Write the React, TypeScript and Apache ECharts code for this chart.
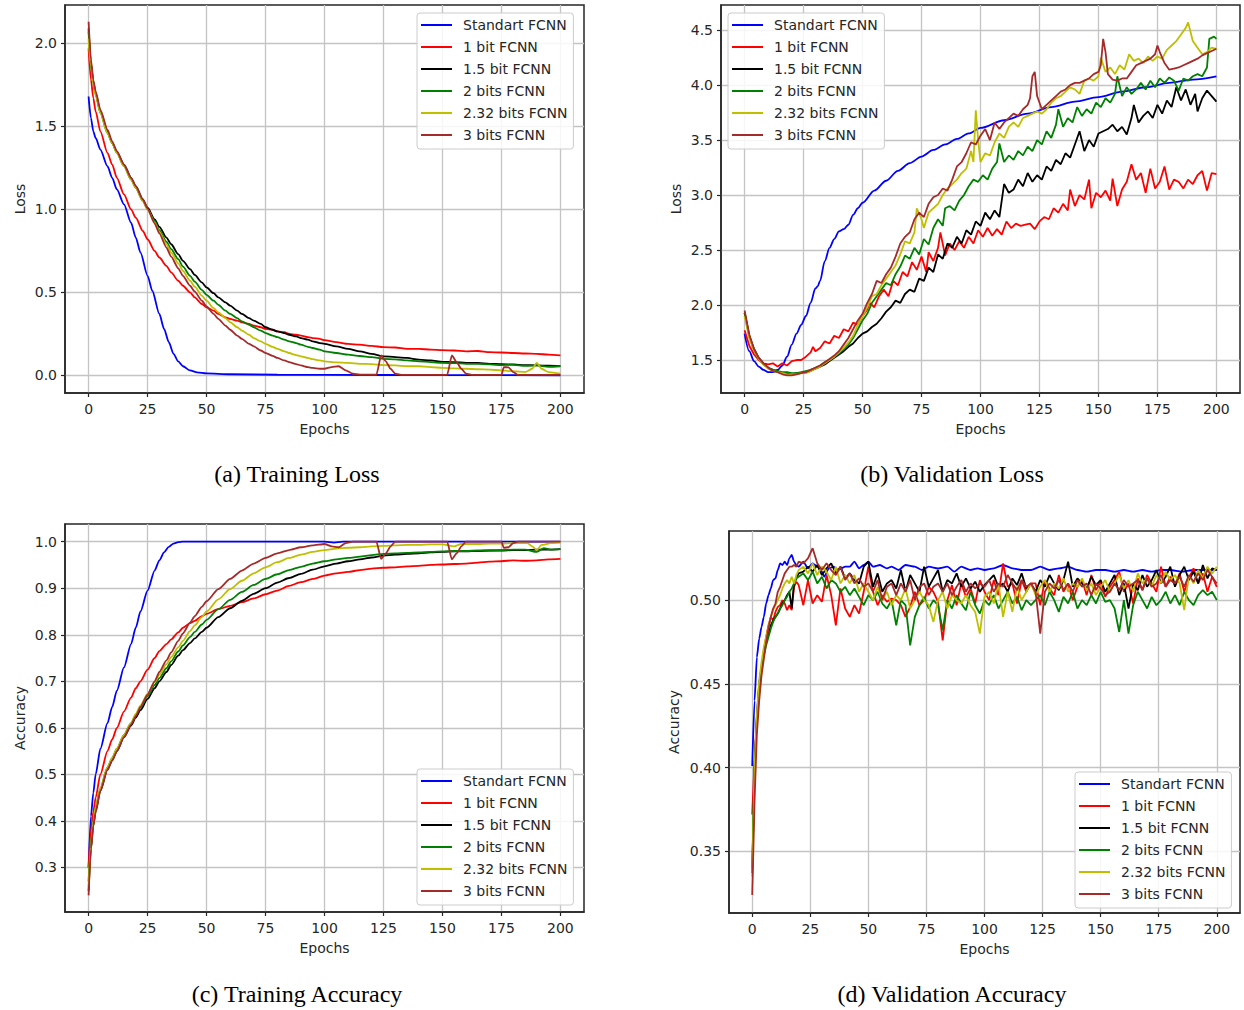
import React, { useEffect, useRef } from "react";
import * as echarts from "echarts";

const SERIES_NAMES = ["Standart FCNN", "1 bit FCNN", "1.5 bit FCNN", "2 bits FCNN", "2.32 bits FCNN", "3 bits FCNN"];
const COLORS = ["#0000ff", "#ff0000", "#000000", "#008000", "#bfbf00", "#a52a2a"];
const CAPTIONS = ["(a) Training Loss", "(b) Validation Loss", "(c) Training Accuracy", "(d) Validation Accuracy"];

const X_TICKS = [0, 25, 50, 75, 100, 125, 150, 175, 200];
const Y_TICKS_A = [0, 0.5, 1.0, 1.5, 2.0];
const Y_TICKS_B = [1.5, 2.0, 2.5, 3.0, 3.5, 4.0, 4.5];
const Y_TICKS_C = [0.3, 0.4, 0.5, 0.6, 0.7, 0.8, 0.9, 1.0];
const Y_TICKS_D = [0.35, 0.4, 0.45, 0.5];

// ---------- (a) Training loss: [epoch, loss]
const TL_STD = [[0,1.68],[1,1.55],[2,1.47],[3,1.43],[5,1.36],[8,1.26],[10,1.19],[12,1.12],[15,1.03],[18,0.92],[20,0.83],[22,0.74],[25,0.60],[27,0.51],[30,0.37],[32,0.28],[34,0.20],[36,0.13],[38,0.085],[40,0.055],[43,0.03],[46,0.018],[50,0.012],[60,0.007],[80,0.004],[100,0.003],[150,0.002],[200,0.001]];
const TL_1BIT = [[0,1.97],[1,1.78],[2,1.67],[3,1.59],[5,1.47],[8,1.34],[10,1.27],[12,1.19],[15,1.09],[18,1.00],[20,0.95],[23,0.87],[25,0.82],[28,0.75],[30,0.71],[33,0.66],[35,0.62],[38,0.57],[40,0.54],[43,0.50],[45,0.47],[48,0.43],[50,0.41],[53,0.39],[55,0.37],[58,0.35],[60,0.34],[63,0.33],[65,0.32],[68,0.31],[70,0.30],[73,0.29],[75,0.28],[78,0.275],[80,0.265],[83,0.26],[85,0.25],[88,0.245],[90,0.24],[93,0.23],[95,0.225],[98,0.22],[100,0.212],[105,0.20],[110,0.19],[115,0.185],[120,0.178],[125,0.17],[130,0.168],[135,0.16],[140,0.16],[145,0.155],[150,0.152],[155,0.15],[160,0.145],[165,0.147],[170,0.14],[175,0.138],[180,0.135],[185,0.132],[190,0.13],[195,0.125],[200,0.12]];
const TL_15BIT = [[0,2.09],[1,1.88],[2,1.77],[3,1.70],[5,1.59],[8,1.47],[10,1.40],[12,1.345],[15,1.27],[18,1.19],[20,1.14],[23,1.06],[25,1.01],[28,0.94],[30,0.895],[33,0.83],[35,0.79],[38,0.73],[40,0.69],[43,0.64],[45,0.605],[48,0.56],[50,0.53],[53,0.495],[55,0.47],[58,0.44],[60,0.42],[63,0.39],[65,0.37],[68,0.345],[70,0.33],[73,0.31],[75,0.29],[78,0.275],[80,0.265],[83,0.255],[85,0.245],[88,0.235],[90,0.225],[93,0.215],[95,0.205],[98,0.195],[100,0.19],[105,0.175],[110,0.16],[115,0.145],[120,0.13],[125,0.115],[130,0.11],[135,0.105],[140,0.095],[145,0.09],[150,0.082],[155,0.08],[160,0.076],[165,0.075],[170,0.07],[175,0.068],[180,0.066],[185,0.062],[190,0.06],[195,0.058],[200,0.056]];
const TL_2BIT = [[0,2.07],[1,1.87],[2,1.76],[3,1.69],[5,1.58],[8,1.46],[10,1.40],[12,1.34],[15,1.26],[18,1.18],[20,1.13],[23,1.05],[25,1.00],[28,0.93],[30,0.875],[33,0.805],[35,0.76],[38,0.70],[40,0.655],[43,0.60],[45,0.565],[48,0.515],[50,0.485],[53,0.45],[55,0.425],[58,0.39],[60,0.37],[63,0.345],[65,0.325],[68,0.305],[70,0.29],[73,0.27],[75,0.255],[78,0.24],[80,0.23],[83,0.215],[85,0.205],[88,0.195],[90,0.185],[93,0.172],[95,0.165],[98,0.155],[100,0.145],[105,0.135],[110,0.125],[115,0.117],[120,0.11],[125,0.10],[130,0.097],[135,0.09],[140,0.085],[145,0.08],[150,0.075],[155,0.074],[160,0.07],[165,0.07],[170,0.066],[175,0.062],[180,0.064],[185,0.058],[190,0.06],[195,0.052],[200,0.055]];
const TL_232BIT = [[0,2.03],[1,1.86],[2,1.76],[3,1.69],[5,1.58],[8,1.46],[10,1.40],[12,1.34],[15,1.26],[18,1.18],[20,1.13],[23,1.05],[25,1.00],[28,0.92],[30,0.865],[33,0.79],[35,0.74],[38,0.675],[40,0.63],[43,0.57],[45,0.535],[48,0.48],[50,0.45],[53,0.405],[55,0.38],[58,0.345],[60,0.32],[63,0.29],[65,0.27],[68,0.245],[70,0.225],[73,0.205],[75,0.19],[78,0.172],[80,0.16],[83,0.145],[85,0.135],[88,0.122],[90,0.115],[93,0.105],[95,0.098],[98,0.09],[100,0.085],[105,0.078],[110,0.075],[115,0.07],[120,0.068],[125,0.062],[130,0.06],[135,0.055],[140,0.055],[145,0.05],[150,0.045],[155,0.042],[160,0.04],[165,0.037],[170,0.035],[175,0.03],[180,0.025],[185,0.02],[188,0.04],[190,0.075],[192,0.04],[195,0.02],[200,0.01]];
const TL_3BIT = [[0,2.13],[1,1.90],[2,1.78],[3,1.71],[5,1.60],[8,1.48],[10,1.41],[12,1.35],[15,1.27],[18,1.19],[20,1.14],[23,1.06],[25,1.005],[28,0.915],[30,0.855],[33,0.77],[35,0.715],[38,0.645],[40,0.60],[43,0.54],[45,0.505],[48,0.45],[50,0.415],[53,0.37],[55,0.34],[58,0.30],[60,0.275],[63,0.24],[65,0.22],[68,0.19],[70,0.175],[73,0.15],[75,0.135],[78,0.118],[80,0.105],[83,0.09],[85,0.08],[88,0.068],[90,0.06],[93,0.05],[95,0.045],[98,0.04],[100,0.04],[103,0.05],[106,0.055],[109,0.03],[112,0.01],[115,0.005],[122,0.004],[124,0.12],[126,0.085],[128,0.04],[130,0.01],[133,0.003],[152,0.004],[154,0.12],[156,0.08],[158,0.04],[160,0.01],[163,0.003],[175,0.003],[176,0.05],[178,0.048],[180,0.02],[182,0.003],[200,0.003]];

// ---------- (b) Validation loss: [epoch, loss]
const VL_STD = [[0,1.74],[2,1.58],[4,1.49],[6,1.44],[8,1.41],[10,1.39],[12,1.39],[14,1.41],[16,1.45],[18,1.53],[20,1.64],[22,1.74],[24,1.82],[26,1.90],[28,2.02],[30,2.15],[31,2.17],[32,2.22],[34,2.40],[36,2.52],[38,2.60],[40,2.67],[42,2.69],[44,2.73],[46,2.82],[48,2.88],[50,2.93],[55,3.04],[60,3.13],[65,3.22],[70,3.29],[75,3.35],[80,3.41],[85,3.46],[90,3.51],[95,3.56],[100,3.61],[110,3.68],[120,3.74],[130,3.80],[140,3.85],[150,3.89],[160,3.94],[170,3.98],[180,4.02],[190,4.05],[200,4.08]];
const VL_1BIT = [[0,1.77],[2,1.63],[4,1.55],[6,1.50],[8,1.47],[10,1.46],[12,1.47],[14,1.44],[16,1.47],[18,1.45],[20,1.49],[22,1.50],[24,1.50],[26,1.53],[28,1.57],[29,1.62],[30,1.58],[32,1.61],[34,1.67],[36,1.65],[38,1.72],[40,1.70],[42,1.78],[44,1.76],[46,1.84],[48,1.82],[50,1.90],[52,1.96],[53,2.02],[55,1.98],[57,2.08],[59,2.14],[61,2.08],[63,2.22],[65,2.18],[67,2.30],[69,2.26],[71,2.39],[73,2.32],[75,2.44],[77,2.30],[78,2.48],[80,2.40],[82,2.52],[83,2.66],[85,2.45],[87,2.56],[89,2.50],[91,2.58],[93,2.52],[95,2.62],[97,2.56],[99,2.68],[101,2.62],[103,2.70],[105,2.63],[107,2.69],[109,2.64],[111,2.76],[113,2.70],[115,2.74],[117,2.72],[119,2.73],[121,2.74],[123,2.69],[125,2.76],[127,2.80],[129,2.78],[131,2.88],[133,2.84],[135,2.92],[137,2.86],[138,3.05],[140,2.90],[142,3.00],[144,2.96],[146,3.14],[147,2.88],[149,3.02],[151,2.98],[153,3.04],[155,2.95],[156,3.15],[158,2.90],[160,3.05],[162,3.12],[164,3.28],[166,3.14],[168,3.20],[170,3.02],[172,3.24],[174,3.06],[176,3.12],[178,3.26],[180,3.05],[182,3.14],[184,3.12],[186,3.06],[188,3.14],[190,3.10],[192,3.18],[194,3.22],[196,3.04],[198,3.20],[200,3.19]];
const VL_15BIT = [[0,1.93],[2,1.72],[4,1.60],[6,1.52],[8,1.47],[10,1.43],[12,1.41],[14,1.40],[16,1.38],[18,1.38],[20,1.37],[22,1.38],[24,1.38],[26,1.39],[28,1.40],[30,1.42],[32,1.44],[34,1.46],[36,1.49],[38,1.52],[40,1.55],[42,1.58],[44,1.62],[46,1.65],[48,1.70],[50,1.74],[52,1.76],[54,1.80],[56,1.83],[58,1.88],[60,1.94],[62,1.98],[64,2.04],[66,2.02],[68,2.10],[70,2.14],[72,2.12],[74,2.24],[76,2.22],[78,2.34],[80,2.30],[82,2.46],[84,2.42],[86,2.56],[88,2.52],[90,2.62],[92,2.56],[94,2.68],[96,2.64],[98,2.76],[100,2.72],[102,2.84],[104,2.78],[106,2.86],[108,2.80],[110,3.10],[112,3.02],[114,3.05],[116,3.14],[118,3.08],[120,3.20],[122,3.12],[124,3.18],[126,3.14],[128,3.26],[130,3.22],[132,3.32],[134,3.28],[136,3.38],[138,3.34],[140,3.46],[142,3.58],[144,3.40],[146,3.50],[148,3.44],[150,3.56],[152,3.58],[154,3.60],[156,3.64],[158,3.58],[160,3.62],[162,3.55],[164,3.70],[165,3.82],[167,3.66],[169,3.72],[171,3.76],[173,3.70],[175,3.82],[177,3.74],[179,3.86],[181,3.80],[183,3.98],[185,3.86],[187,3.96],[189,3.82],[191,3.92],[192,3.76],[194,3.88],[196,3.95],[198,3.90],[200,3.85]];
const VL_2BIT = [[0,1.93],[2,1.71],[4,1.59],[6,1.51],[8,1.46],[10,1.43],[12,1.41],[14,1.40],[16,1.39],[18,1.39],[20,1.38],[22,1.38],[24,1.39],[26,1.40],[28,1.41],[30,1.43],[32,1.45],[34,1.48],[36,1.50],[38,1.53],[40,1.56],[42,1.60],[44,1.64],[46,1.70],[48,1.78],[50,1.86],[52,1.92],[54,2.02],[56,2.08],[58,2.14],[60,2.20],[62,2.18],[64,2.28],[66,2.35],[68,2.45],[70,2.42],[72,2.52],[74,2.46],[76,2.60],[78,2.55],[80,2.70],[82,2.78],[84,2.72],[85,2.88],[87,2.90],[89,2.86],[91,2.95],[93,3.00],[95,3.08],[97,3.14],[99,3.12],[101,3.18],[103,3.14],[105,3.24],[107,3.30],[108,3.47],[110,3.30],[112,3.36],[114,3.32],[116,3.40],[118,3.36],[120,3.44],[122,3.40],[124,3.50],[126,3.46],[128,3.58],[130,3.52],[132,3.64],[133,3.78],[135,3.62],[137,3.70],[139,3.66],[141,3.80],[143,3.72],[145,3.78],[147,3.74],[149,3.84],[151,3.80],[153,3.88],[155,3.84],[157,3.92],[158,4.08],[160,3.90],[162,3.98],[164,3.92],[166,3.96],[168,4.02],[170,3.96],[172,4.04],[174,3.98],[176,4.06],[178,4.02],[180,4.07],[182,4.04],[184,3.95],[186,4.06],[188,4.04],[190,4.08],[192,4.10],[194,4.08],[196,4.16],[197,4.42],[199,4.44],[200,4.42]];
const VL_232BIT = [[0,1.90],[2,1.70],[4,1.59],[6,1.51],[8,1.46],[10,1.42],[12,1.40],[14,1.39],[16,1.38],[18,1.37],[20,1.37],[22,1.37],[24,1.38],[26,1.38],[28,1.40],[30,1.42],[32,1.44],[34,1.47],[36,1.50],[38,1.53],[40,1.57],[42,1.61],[44,1.66],[46,1.72],[48,1.82],[50,1.90],[52,1.98],[54,2.08],[56,2.10],[58,2.18],[60,2.24],[62,2.30],[64,2.36],[66,2.46],[68,2.58],[70,2.56],[72,2.66],[73,2.88],[75,2.78],[76,2.70],[78,2.84],[80,2.88],[82,2.92],[84,3.00],[86,3.06],[88,3.10],[90,3.14],[92,3.20],[94,3.24],[96,3.40],[97,3.30],[98,3.77],[99,3.50],[100,3.30],[102,3.38],[104,3.36],[106,3.48],[108,3.56],[110,3.52],[112,3.62],[114,3.66],[116,3.62],[118,3.70],[120,3.72],[122,3.74],[124,3.76],[126,3.74],[128,3.78],[130,3.84],[132,3.88],[134,3.90],[136,3.94],[138,3.98],[140,3.96],[142,3.92],[144,4.04],[146,4.06],[148,4.04],[150,4.08],[151,4.25],[153,4.12],[155,4.16],[157,4.10],[159,4.18],[161,4.14],[163,4.28],[165,4.22],[167,4.24],[169,4.20],[171,4.26],[173,4.22],[175,4.26],[177,4.24],[179,4.32],[181,4.36],[183,4.40],[185,4.46],[187,4.52],[188,4.57],[190,4.40],[192,4.34],[194,4.28],[196,4.30],[198,4.34],[200,4.33]];
const VL_3BIT = [[0,1.95],[2,1.73],[4,1.60],[6,1.52],[8,1.47],[10,1.43],[12,1.40],[14,1.39],[16,1.37],[18,1.36],[20,1.36],[22,1.37],[24,1.38],[26,1.39],[28,1.41],[30,1.43],[32,1.45],[34,1.48],[36,1.51],[38,1.54],[40,1.58],[42,1.64],[44,1.70],[46,1.78],[48,1.86],[50,1.92],[52,2.02],[54,2.10],[56,2.22],[58,2.20],[60,2.28],[62,2.34],[64,2.44],[66,2.56],[68,2.62],[70,2.66],[72,2.78],[74,2.84],[76,2.80],[78,2.92],[80,2.98],[82,3.00],[84,3.06],[86,3.04],[88,3.14],[90,3.26],[92,3.30],[94,3.38],[96,3.48],[98,3.46],[100,3.54],[102,3.60],[104,3.50],[106,3.66],[108,3.60],[110,3.66],[112,3.70],[114,3.74],[116,3.72],[118,3.78],[120,3.82],[121,3.88],[122,4.08],[123,4.12],[124,3.90],[126,3.78],[128,3.82],[130,3.86],[132,3.90],[134,3.94],[136,3.96],[138,4.00],[140,4.02],[142,4.02],[144,4.04],[146,4.06],[148,4.10],[150,4.12],[151,4.18],[152,4.42],[153,4.30],[154,4.10],[156,4.05],[158,4.04],[160,4.06],[162,4.06],[164,4.12],[166,4.18],[168,4.20],[170,4.22],[172,4.24],[174,4.28],[175,4.36],[176,4.30],[178,4.20],[180,4.14],[182,4.15],[184,4.16],[186,4.18],[188,4.20],[190,4.22],[192,4.24],[194,4.27],[196,4.29],[198,4.31],[200,4.33]];

// ---------- (c) Training accuracy: [epoch, acc]
const TA_STD = [[0,0.30],[1,0.41],[2,0.46],[3,0.50],[5,0.555],[8,0.61],[10,0.645],[12,0.68],[15,0.73],[18,0.78],[20,0.815],[22,0.85],[25,0.895],[28,0.938],[30,0.96],[32,0.977],[34,0.989],[36,0.996],[38,0.999],[40,1.0],[100,1.0],[104,0.998],[108,1.0],[200,1.0]];
const TA_1BIT = [[0,0.30],[1,0.38],[2,0.42],[3,0.45],[5,0.50],[8,0.55],[10,0.575],[12,0.60],[15,0.635],[18,0.665],[20,0.685],[22,0.70],[25,0.725],[28,0.75],[30,0.765],[33,0.78],[35,0.79],[38,0.805],[40,0.815],[43,0.825],[45,0.83],[48,0.84],[50,0.845],[55,0.855],[60,0.862],[65,0.87],[70,0.878],[75,0.887],[80,0.895],[85,0.905],[90,0.913],[95,0.92],[100,0.927],[105,0.932],[110,0.935],[115,0.939],[120,0.942],[125,0.944],[130,0.945],[135,0.947],[140,0.948],[145,0.95],[150,0.951],[155,0.952],[160,0.953],[165,0.955],[170,0.957],[175,0.958],[180,0.96],[185,0.959],[190,0.96],[195,0.962],[200,0.963]];
const TA_15BIT = [[0,0.25],[1,0.34],[2,0.39],[3,0.42],[5,0.465],[8,0.51],[10,0.53],[12,0.55],[15,0.58],[18,0.605],[20,0.622],[22,0.638],[25,0.662],[28,0.685],[30,0.70],[33,0.72],[35,0.735],[38,0.755],[40,0.767],[43,0.782],[45,0.792],[48,0.806],[50,0.815],[55,0.838],[60,0.857],[65,0.873],[70,0.888],[75,0.90],[80,0.912],[85,0.922],[90,0.931],[95,0.94],[100,0.947],[105,0.953],[110,0.958],[115,0.962],[120,0.966],[125,0.97],[130,0.972],[135,0.974],[140,0.975],[145,0.977],[150,0.978],[155,0.979],[160,0.979],[165,0.98],[170,0.981],[175,0.981],[180,0.982],[185,0.982],[190,0.983],[195,0.983],[200,0.984]];
const TA_2BIT = [[0,0.27],[1,0.35],[2,0.40],[3,0.43],[5,0.47],[8,0.515],[10,0.535],[12,0.555],[15,0.585],[18,0.61],[20,0.628],[22,0.644],[25,0.668],[28,0.692],[30,0.707],[33,0.728],[35,0.743],[38,0.764],[40,0.777],[43,0.795],[45,0.806],[48,0.822],[50,0.832],[55,0.855],[60,0.875],[65,0.892],[70,0.907],[75,0.92],[80,0.93],[85,0.939],[90,0.946],[95,0.953],[100,0.958],[105,0.962],[110,0.965],[115,0.968],[120,0.971],[125,0.974],[130,0.975],[135,0.976],[140,0.977],[145,0.978],[150,0.979],[155,0.98],[160,0.98],[165,0.981],[170,0.981],[175,0.982],[180,0.983],[185,0.983],[190,0.978],[193,0.986],[196,0.983],[200,0.984]];
const TA_232BIT = [[0,0.26],[1,0.35],[2,0.40],[3,0.43],[5,0.47],[8,0.515],[10,0.535],[12,0.555],[15,0.585],[18,0.61],[20,0.63],[22,0.648],[25,0.673],[28,0.698],[30,0.714],[33,0.737],[35,0.752],[38,0.773],[40,0.787],[43,0.808],[45,0.82],[48,0.838],[50,0.85],[55,0.876],[60,0.898],[65,0.916],[70,0.932],[75,0.945],[80,0.956],[85,0.965],[90,0.972],[95,0.978],[100,0.982],[105,0.985],[110,0.987],[115,0.988],[120,0.99],[125,0.991],[130,0.992],[135,0.993],[140,0.993],[145,0.994],[150,0.994],[155,0.99],[158,0.995],[165,0.995],[170,0.996],[175,0.996],[180,0.997],[186,0.997],[188,0.99],[190,0.982],[192,0.993],[196,0.997],[200,0.998]];
const TA_3BIT = [[0,0.24],[1,0.34],[2,0.39],[3,0.42],[5,0.465],[8,0.51],[10,0.53],[12,0.55],[15,0.58],[18,0.607],[20,0.625],[22,0.645],[25,0.672],[28,0.70],[30,0.72],[33,0.745],[35,0.762],[38,0.787],[40,0.803],[43,0.826],[45,0.84],[48,0.86],[50,0.872],[55,0.898],[60,0.92],[65,0.938],[70,0.953],[75,0.965],[80,0.975],[85,0.982],[90,0.988],[95,0.992],[100,0.995],[103,0.99],[106,0.988],[109,0.997],[112,1.0],[122,1.0],[124,0.963],[126,0.975],[128,0.99],[130,1.0],[152,1.0],[154,0.962],[156,0.975],[158,0.99],[160,1.0],[175,1.0],[176,0.987],[178,0.988],[180,0.997],[182,1.0],[200,1.0]];

// ---------- (d) Validation accuracy
const VA_STD = [[0,0.401],[1,0.44],[2,0.466],[3,0.477],[4,0.484],[5,0.49],[6,0.498],[7,0.503],[8,0.507],[9,0.512],[10,0.513],[11,0.518],[12,0.522],[13,0.521],[14,0.523],[15,0.521],[16,0.525],[17,0.527],[18,0.523],[19,0.521],[20,0.52],[22,0.523],[24,0.519],[26,0.522],[28,0.52],[30,0.517],[31,0.514],[33,0.519],[35,0.52],[37,0.518],[40,0.52],[42,0.52],[44,0.523],[46,0.519],[48,0.521],[50,0.523],[52,0.52],[55,0.521],[58,0.519],[60,0.52],[63,0.518],[66,0.521],[70,0.52],[73,0.518],[76,0.52],[80,0.519],[84,0.52],[87,0.517],[90,0.52],[94,0.518],[97,0.519],[100,0.518],[104,0.519],[108,0.521],[112,0.519],[116,0.518],[120,0.518],[124,0.52],[128,0.518],[132,0.519],[136,0.52],[140,0.518],[144,0.517],[148,0.518],[152,0.518],[156,0.517],[160,0.518],[164,0.517],[168,0.518],[172,0.517],[176,0.518],[180,0.518],[185,0.517],[190,0.518],[195,0.518],[200,0.518]];
const EPOCHS_D = [0,1,2,3,4,5,6,7,8,9,10,11,12,13,14,15,16,17,18,19,20,
  22,24,26,28,30,32,34,36,38,40,42,44,46,48,50,52,54,56,58,60,62,64,66,68,70,72,74,76,78,80,
  82,84,86,88,90,92,94,96,98,100,102,104,106,108,110,112,114,116,118,120,122,124,126,128,130,132,134,136,138,140,
  142,144,146,148,150,152,154,156,158,160,162,164,166,168,170,172,174,176,178,180,182,184,186,188,190,192,194,196,198,200];
const VA_1BIT = [0.372,0.405,0.43,0.448,0.46,0.47,0.478,0.485,0.49,0.488,0.493,0.496,0.497,0.50,0.498,0.494,0.497,0.494,0.508,0.511,0.509,
  0.497,0.512,0.498,0.503,0.499,0.515,0.503,0.485,0.507,0.495,
  0.49,0.497,0.492,0.505,0.52,0.505,0.497,0.503,0.499,0.501,
  0.50,0.497,0.49,0.496,0.505,0.497,0.50,0.508,0.505,0.499,
  0.476,0.50,0.509,0.497,0.51,0.502,0.507,0.498,0.512,0.505,
  0.50,0.512,0.503,0.522,0.508,0.51,0.498,0.512,0.505,0.51,
  0.51,0.497,0.512,0.507,0.503,0.515,0.505,0.51,0.50,0.508,
  0.512,0.503,0.515,0.506,0.511,0.502,0.508,0.512,0.517,0.505,
  0.51,0.498,0.513,0.506,0.515,0.51,0.505,0.52,0.508,0.514,
  0.509,0.516,0.505,0.513,0.519,0.51,0.516,0.505,0.514,0.508];
const VA_15BIT = [0.337,0.40,0.43,0.45,0.46,0.468,0.475,0.48,0.485,0.488,0.49,0.492,0.495,0.498,0.50,0.503,0.505,0.495,0.51,0.513,0.516,
  0.517,0.52,0.517,0.521,0.515,0.519,0.522,0.516,0.52,0.513,
  0.516,0.512,0.51,0.52,0.523,0.508,0.516,0.505,0.51,0.512,
  0.507,0.518,0.505,0.515,0.51,0.505,0.52,0.508,0.513,0.518,
  0.505,0.512,0.51,0.516,0.508,0.513,0.507,0.511,0.505,0.509,
  0.512,0.515,0.508,0.51,0.505,0.513,0.509,0.516,0.507,0.51,
  0.505,0.512,0.508,0.515,0.51,0.506,0.512,0.523,0.508,0.513,
  0.51,0.507,0.514,0.509,0.512,0.505,0.51,0.515,0.503,0.51,
  0.495,0.51,0.506,0.515,0.508,0.512,0.518,0.51,0.514,0.52,
  0.508,0.515,0.52,0.512,0.517,0.51,0.521,0.513,0.519,0.518];
const VA_2BIT = [0.34,0.40,0.43,0.45,0.46,0.467,0.473,0.478,0.483,0.487,0.49,0.492,0.495,0.497,0.50,0.502,0.505,0.507,0.51,0.513,0.514,
  0.516,0.512,0.517,0.51,0.514,0.507,0.512,0.51,0.505,0.508,
  0.503,0.507,0.502,0.497,0.503,0.50,0.505,0.498,0.495,0.50,
  0.485,0.50,0.497,0.473,0.49,0.497,0.502,0.495,0.50,0.497,
  0.482,0.50,0.495,0.503,0.498,0.494,0.505,0.497,0.492,0.50,
  0.497,0.503,0.495,0.50,0.505,0.498,0.502,0.494,0.50,0.497,
  0.50,0.503,0.497,0.505,0.50,0.493,0.502,0.498,0.505,0.495,
  0.50,0.497,0.503,0.498,0.505,0.499,0.50,0.495,0.481,0.50,
  0.48,0.497,0.505,0.50,0.495,0.502,0.497,0.50,0.505,0.498,
  0.503,0.497,0.505,0.50,0.497,0.503,0.506,0.503,0.505,0.50];
const VA_232BIT = [0.335,0.40,0.432,0.452,0.463,0.472,0.478,0.484,0.49,0.494,0.497,0.50,0.503,0.507,0.51,0.512,0.51,0.514,0.51,0.515,0.518,
  0.52,0.516,0.522,0.515,0.52,0.517,0.512,0.52,0.51,0.515,
  0.51,0.515,0.505,0.51,0.505,0.50,0.508,0.50,0.505,0.497,
  0.503,0.50,0.507,0.495,0.50,0.505,0.50,0.497,0.487,0.50,
  0.505,0.495,0.503,0.50,0.498,0.503,0.497,0.493,0.48,0.502,
  0.505,0.498,0.51,0.49,0.505,0.493,0.508,0.50,0.505,0.51,
  0.503,0.508,0.512,0.505,0.51,0.507,0.513,0.505,0.51,0.508,
  0.513,0.506,0.51,0.503,0.508,0.512,0.505,0.51,0.515,0.507,
  0.512,0.505,0.516,0.51,0.513,0.508,0.515,0.51,0.517,0.512,
  0.515,0.51,0.494,0.515,0.51,0.518,0.513,0.52,0.516,0.52];
const VA_3BIT = [0.324,0.38,0.42,0.44,0.455,0.465,0.475,0.483,0.49,0.495,0.498,0.505,0.508,0.512,0.516,0.518,0.52,0.52,0.521,0.52,0.523,
  0.522,0.525,0.531,0.522,0.518,0.522,0.518,0.515,0.52,0.512,
  0.516,0.51,0.513,0.508,0.51,0.505,0.512,0.50,0.508,0.51,
  0.503,0.51,0.505,0.512,0.50,0.508,0.51,0.503,0.508,0.51,
  0.505,0.51,0.503,0.508,0.512,0.505,0.51,0.507,0.51,0.508,
  0.512,0.505,0.51,0.508,0.515,0.51,0.506,0.512,0.508,0.51,
  0.505,0.48,0.505,0.51,0.507,0.512,0.506,0.51,0.505,0.512,
  0.508,0.51,0.503,0.51,0.507,0.503,0.505,0.51,0.506,0.512,
  0.508,0.51,0.512,0.506,0.513,0.508,0.51,0.515,0.508,0.512,
  0.51,0.514,0.508,0.515,0.511,0.516,0.512,0.518,0.514,0.51];

const zipD = (vals: number[]) => EPOCHS_D.map((e, k) => [e, vals[k]]);

const FONT = "DejaVu Sans";
const TXT = "#262626";

const PANELS = [
  { grid: { left: 65, top: 5, width: 519, height: 388 }, yMin: -0.106, yMax: 2.231, yTicks: Y_TICKS_A, digits: 1, yName: "Loss", yGap: 38,
    data: [TL_STD, TL_1BIT, TL_15BIT, TL_2BIT, TL_232BIT, TL_3BIT], smooth: [0.25, 0.25, 0.25, 0.25, 0.25, 0.2],
    legend: { left: 417, top: 13 }, caption: { x: 297, y: 474 } },
  { grid: { left: 721, top: 5, width: 519, height: 388 }, yMin: 1.2, yMax: 4.728, yTicks: Y_TICKS_B, digits: 1, yName: "Loss", yGap: 38,
    data: [VL_STD, VL_1BIT, VL_15BIT, VL_2BIT, VL_232BIT, VL_3BIT], smooth: [0.3, 0, 0, 0, 0, 0],
    legend: { left: 728, top: 13 }, caption: { x: 952, y: 474 } },
  { grid: { left: 65, top: 524, width: 519, height: 388 }, yMin: 0.2042, yMax: 1.038, yTicks: Y_TICKS_C, digits: 1, yName: "Accuracy", yGap: 38,
    data: [TA_STD, TA_1BIT, TA_15BIT, TA_2BIT, TA_232BIT, TA_3BIT], smooth: [0.25, 0.25, 0.25, 0.25, 0.25, 0.2],
    legend: { left: 417, top: 769 }, caption: { x: 297, y: 994 } },
  { grid: { left: 729, top: 531, width: 511, height: 382 }, yMin: 0.3132, yMax: 0.5413, yTicks: Y_TICKS_D, digits: 2, yName: "Accuracy", yGap: 48,
    data: [VA_STD, zipD(VA_1BIT), zipD(VA_15BIT), zipD(VA_2BIT), zipD(VA_232BIT), zipD(VA_3BIT)], smooth: [0.2, 0, 0, 0, 0, 0],
    legend: { left: 1075, top: 772 }, caption: { x: 952, y: 994 } },
];

function buildOption() {
  const grid: any[] = [];
  const xAxis: any[] = [];
  const yAxis: any[] = [];
  const series: any[] = [];
  const legend: any[] = [];
  const graphic: any[] = [];
  PANELS.forEach((p, i) => {
    grid.push({ ...p.grid, show: true, borderColor: "#262626", borderWidth: 1.5, backgroundColor: "#fff", containLabel: false });
    xAxis.push({
      type: "value", gridIndex: i, min: -10, max: 210,
      axisLine: { show: true, onZero: false, lineStyle: { color: "#262626", width: 1.5 } },
      axisTick: { show: true, customValues: X_TICKS, length: 4, lineStyle: { color: "#262626", width: 1.2 } },
      axisLabel: { customValues: X_TICKS, color: TXT, fontSize: 14, fontFamily: FONT, margin: 9 },
      splitLine: { show: true, lineStyle: { color: "#c4c4c4", width: 1.3 } },
      name: "Epochs", nameLocation: "middle", nameGap: 29,
      nameTextStyle: { color: TXT, fontSize: 14, fontFamily: FONT },
    });
    yAxis.push({
      type: "value", gridIndex: i, min: p.yMin, max: p.yMax,
      axisLine: { show: true, onZero: false, lineStyle: { color: "#262626", width: 1.5 } },
      axisTick: { show: true, customValues: p.yTicks, length: 4, lineStyle: { color: "#262626", width: 1.2 } },
      axisLabel: { customValues: p.yTicks, color: TXT, fontSize: 14, fontFamily: FONT, margin: 8,
        formatter: (v: number) => v.toFixed(p.digits) },
      splitLine: { show: true, lineStyle: { color: "#c4c4c4", width: 1.3 } },
      name: p.yName, nameLocation: "middle", nameGap: p.yGap,
      nameTextStyle: { color: TXT, fontSize: 14, fontFamily: FONT },
    });
    p.data.forEach((d, k) => {
      series.push({
        type: "line", name: SERIES_NAMES[k], xAxisIndex: i, yAxisIndex: i, data: d,
        symbol: "none", showSymbol: false, smooth: p.smooth[k] || false, smoothMonotone: "x",
        lineStyle: { color: COLORS[k], width: 1.8 }, itemStyle: { color: COLORS[k] },
        silent: true, z: 3 + k * 0.01, clip: true,
      });
    });
    legend.push({
      show: true, orient: "vertical", left: p.legend.left, top: p.legend.top, data: SERIES_NAMES,
      icon: "rect", itemWidth: 31, itemHeight: 2, itemGap: 6, padding: [4, 6, 6, 4],
      backgroundColor: "rgba(255,255,255,0.85)", borderColor: "#cccccc", borderWidth: 1, borderRadius: 3,
      textStyle: { fontFamily: FONT, fontSize: 14, color: TXT, lineHeight: 16, padding: [0, 0, 0, 6] },
      selectedMode: false, z: 10,
    });
    graphic.push({
      type: "text", x: p.caption.x, y: p.caption.y, z: 10,
      style: { text: CAPTIONS[i], fontFamily: "Liberation Serif", fontSize: 24, fill: "#000", align: "center", verticalAlign: "middle" },
    });
  });
  return { animation: false, backgroundColor: "#fff", grid, xAxis, yAxis, series, legend, graphic, tooltip: { show: false } };
}

export default function App() {
  const ref = useRef<HTMLDivElement>(null);
  useEffect(() => {
    const chart = echarts.init(ref.current as HTMLDivElement, null, { renderer: "svg", width: 1244, height: 1010 });
    chart.setOption(buildOption() as any);
    return () => chart.dispose();
  }, []);
  return <div ref={ref} style={{ position: "absolute", left: 0, top: 0, width: 1244, height: 1010, background: "#fff" }} />;
}
